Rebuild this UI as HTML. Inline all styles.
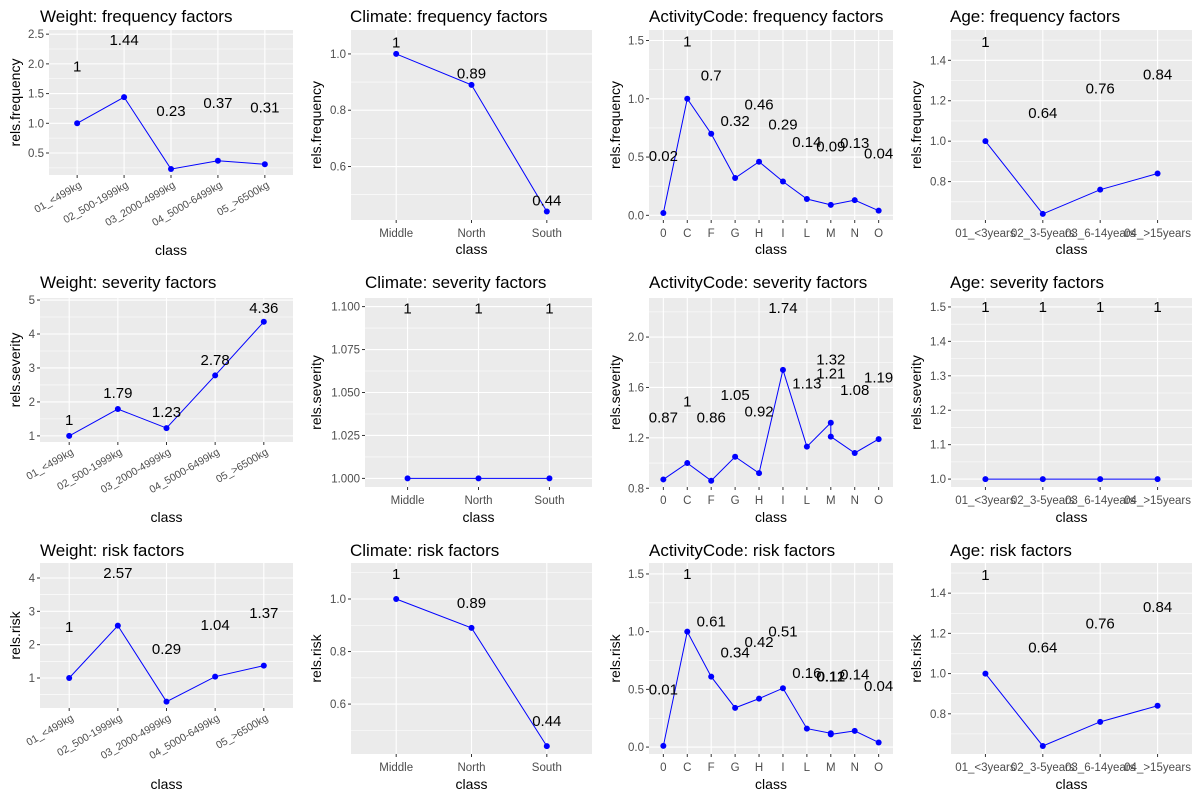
<!DOCTYPE html>
<html><head><meta charset="utf-8"><style>
body{margin:0;background:#fff}
svg{display:block;font-family:"Liberation Sans",sans-serif}
</style></head><body>
<svg id="chart" width="1200" height="800" viewBox="0 0 1200 800"></svg>
<script>
// ---- data ----
const weightCats = ["01_<499kg","02_500-1999kg","03_2000-4999kg","04_5000-6499kg","05_>6500kg"];
const climateCats = ["Middle","North","South"];
const activityCats = ["0","C","F","G","H","I","L","M","N","O"];
const activitySevCats = ["0","C","F","G","H","I","L","M","M","N","O"];
const activityRiskCats = ["0","C","F","G","H","I","L","M","M","N","O"];
const ageCats = ["01_<3years","02_3-5years","03_6-14years","04_>15years"];

const weightFreq = [1,1.44,0.23,0.37,0.31];
const weightFreqLabY = [1.96,2.40,1.21,1.34,1.27];
const climateFreq = [1,0.89,0.44];
const climateFreqLabY = [1.04,0.93,0.48];
const activityFreq = [0.02,1,0.7,0.32,0.46,0.29,0.14,0.09,0.13,0.04];
const activityFreqLabY = [0.51,1.49,1.2,0.81,0.95,0.78,0.63,0.59,0.62,0.53];
const ageFreq = [1,0.64,0.76,0.84];
const ageFreqLabY = [1.49,1.14,1.26,1.33];

const weightSev = [1,1.79,1.23,2.78,4.36];
const weightSevLabY = [1.47,2.26,1.71,3.24,4.76];
const climateSev = [1,1,1];
const climateSevLabY = [1.099,1.099,1.099];
const activitySev = [0.87,1,0.86,1.05,0.92,1.74,1.13,1.32,1.21,1.08,1.19];
const activitySevLabY = [1.36,1.49,1.36,1.54,1.41,2.23,1.63,1.82,1.71,1.58,1.68];
const ageSev = [1,1,1,1];
const ageSevLabY = [1.5,1.5,1.5,1.5];

const weightRisk = [1,2.57,0.29,1.04,1.37];
const weightRiskLabY = [2.53,4.15,1.87,2.59,2.95];
const climateRisk = [1,0.89,0.44];
const climateRiskLabY = [1.095,0.985,0.535];
const activityRisk = [0.01,1,0.61,0.34,0.42,0.51,0.16,0.12,0.11,0.14,0.04];
const activityRiskLabels = ["0.01","1","0.61","0.34","0.42","0.51","0.16","0.12","0.11","0.14","0.04"];
const activityRiskLabY = [0.5,1.5,1.09,0.82,0.91,1.0,0.64,0.61,0.61,0.63,0.53];
const ageRisk = [1,0.64,0.76,0.84];
const ageRiskLabY = [1.49,1.13,1.25,1.33];

// ---- rendering ----
const NS="http://www.w3.org/2000/svg";
const svg=document.getElementById('chart');
function mk(tag,attrs,parent,text){const e=document.createElementNS(NS,tag);for(const k in attrs)e.setAttribute(k,attrs[k]);if(text!==undefined)e.textContent=text;(parent||svg).appendChild(e);return e;}

function panel(c){
  const g=mk('g',{});
  
  
  const W=c.x1-c.x0,H=c.y1-c.y0;
  const ys=v=>c.y1-(v-c.ymin)/(c.ymax-c.ymin)*H;
  const uniq=c.uniq;
  const step=W/(uniq.length-1+1.2);
  const xs=cat=>c.x0+step*(uniq.indexOf(cat)+0.6);
  const bg=mk('rect',{x:c.x0,y:c.y0,width:W,height:H,fill:'#EBEBEB'},g);
  
  
  const br=c.breaks, d=br[1]-br[0];
  for(let v=br[0]-d/2; v<=c.ymax; v+=d){ if(v>=c.ymin){const y=ys(v);mk('line',{x1:c.x0,x2:c.x1,y1:y,y2:y,stroke:'#fff','stroke-width':0.55},g);} }
  br.forEach(v=>{const y=ys(v);
    mk('line',{x1:c.x0,x2:c.x1,y1:y,y2:y,stroke:'#fff','stroke-width':1.1},g);
    mk('line',{x1:c.x0-3,x2:c.x0,y1:y,y2:y,stroke:'#333','stroke-width':1},g);
    const t=mk('text',{x:c.x0-5,y:y+4,'text-anchor':'end','font-size':11.5,fill:'#4D4D4D'},g,v.toFixed(c.dec));
    
    
  });
  uniq.forEach(cat=>{const x=xs(cat);
    mk('line',{x1:x,x2:x,y1:c.y0,y2:c.y1,stroke:'#fff','stroke-width':1.1},g);
    mk('line',{x1:x,x2:x,y1:c.y1,y2:c.y1+3,stroke:'#333','stroke-width':1},g);
    let t;
    if(c.rot){t=mk('text',{x:x+5,y:c.y1+12,'text-anchor':'end','font-size':10.5,fill:'#4D4D4D',transform:`rotate(-30 ${x+5} ${c.y1+12})`},g,cat);}
    else{t=mk('text',{x:x,y:c.y1+17,'text-anchor':'middle','font-size':11.5,fill:'#4D4D4D'},g,cat);}
    
    
  });
  const pts=c.cats.map((cat,i)=>xs(cat)+','+ys(c.vals[i])).join(' ');
  const pl=mk('polyline',{points:pts,fill:'none',stroke:'#0000FF','stroke-width':1},g);
  
  
  c.cats.forEach((cat,i)=>{
    const p=mk('circle',{cx:xs(cat),cy:ys(c.vals[i]),r:3,fill:'#0000FF'},g);
    
    
    const lab=c.labels?c.labels[i]:String(c.vals[i]);
    const t=mk('text',{x:xs(cat),y:ys(c.labY[i])+5,'text-anchor':'middle','font-size':15,fill:'#000'},g,lab);
    
    
  });
  const ti=mk('text',{x:c.tx,y:c.ty,'font-size':17,fill:'#000'},g,c.title);
  
  
  const cx=(c.x0+c.x1)/2;
  const xt=mk('text',{x:cx,y:c.xty,'text-anchor':'middle','font-size':14,fill:'#000'},g,'class');
  
  
  const cy=(c.y0+c.y1)/2;
  const yt=mk('text',{x:c.ytx,y:cy,'text-anchor':'middle','font-size':14,fill:'#000',transform:`rotate(-90 ${c.ytx} ${cy})`},g,c.ylab);
  
  
}

// row 1
panel({name:'weight-frequency-panel',x0:49,x1:293,y0:30,y1:175,ymin:0.13,ymax:2.57,breaks:[0.5,1,1.5,2,2.5],dec:1,uniq:weightCats,cats:weightCats,vals:weightFreq,labY:weightFreqLabY,rot:true,title:'Weight: frequency factors',tx:40,ty:22,xty:255,ytx:20,ylab:'rels.frequency'});
panel({name:'climate-frequency-panel',x0:351,x1:592,y0:30,y1:220,ymin:0.41,ymax:1.085,breaks:[0.6,0.8,1.0],dec:1,uniq:climateCats,cats:climateCats,vals:climateFreq,labY:climateFreqLabY,title:'Climate: frequency factors',tx:350,ty:22,xty:254,ytx:321,ylab:'rels.frequency'});
panel({name:'activity-frequency-panel',x0:649,x1:893,y0:30,y1:220,ymin:-0.04,ymax:1.59,breaks:[0,0.5,1,1.5],dec:1,uniq:activityCats,cats:activityCats,vals:activityFreq,labY:activityFreqLabY,title:'ActivityCode: frequency factors',tx:649,ty:22,xty:254,ytx:620,ylab:'rels.frequency'});
panel({name:'age-frequency-panel',x0:951,x1:1192,y0:30,y1:220,ymin:0.61,ymax:1.55,breaks:[0.8,1.0,1.2,1.4],dec:1,uniq:ageCats,cats:ageCats,vals:ageFreq,labY:ageFreqLabY,title:'Age: frequency factors',tx:950,ty:22,xty:254,ytx:921,ylab:'rels.frequency'});
// row 2
panel({name:'weight-severity-panel',x0:40,x1:293,y0:298,y1:442,ymin:0.82,ymax:5.06,breaks:[1,2,3,4,5],dec:0,uniq:weightCats,cats:weightCats,vals:weightSev,labY:weightSevLabY,rot:true,title:'Weight: severity factors',tx:40,ty:288,xty:522,ytx:20,ylab:'rels.severity'});
panel({name:'climate-severity-panel',x0:365,x1:592,y0:298,y1:487,ymin:0.995,ymax:1.105,breaks:[1.0,1.025,1.05,1.075,1.1],dec:3,uniq:climateCats,cats:climateCats,vals:climateSev,labY:climateSevLabY,title:'Climate: severity factors',tx:365,ty:288,xty:522,ytx:321,ylab:'rels.severity'});
panel({name:'activity-severity-panel',x0:649,x1:893,y0:298,y1:487,ymin:0.81,ymax:2.31,breaks:[0.8,1.2,1.6,2.0],dec:1,uniq:activityCats,cats:activitySevCats,vals:activitySev,labY:activitySevLabY,title:'ActivityCode: severity factors',tx:649,ty:288,xty:522,ytx:620,ylab:'rels.severity'});
panel({name:'age-severity-panel',x0:951,x1:1192,y0:298,y1:487,ymin:0.977,ymax:1.526,breaks:[1.0,1.1,1.2,1.3,1.4,1.5],dec:1,uniq:ageCats,cats:ageCats,vals:ageSev,labY:ageSevLabY,title:'Age: severity factors',tx:950,ty:288,xty:522,ytx:921,ylab:'rels.severity'});
// row 3
panel({name:'weight-risk-panel',x0:40,x1:293,y0:563,y1:708,ymin:0.1,ymax:4.45,breaks:[1,2,3,4],dec:0,uniq:weightCats,cats:weightCats,vals:weightRisk,labY:weightRiskLabY,rot:true,title:'Weight: risk factors',tx:40,ty:556,xty:789,ytx:20,ylab:'rels.risk'});
panel({name:'climate-risk-panel',x0:351,x1:592,y0:563,y1:754,ymin:0.41,ymax:1.137,breaks:[0.6,0.8,1.0],dec:1,uniq:climateCats,cats:climateCats,vals:climateRisk,labY:climateRiskLabY,title:'Climate: risk factors',tx:350,ty:556,xty:789,ytx:321,ylab:'rels.risk'});
panel({name:'activity-risk-panel',x0:649,x1:893,y0:563,y1:754,ymin:-0.06,ymax:1.595,breaks:[0,0.5,1,1.5],dec:1,uniq:activityCats,cats:activityRiskCats,vals:activityRisk,labels:activityRiskLabels,labY:activityRiskLabY,title:'ActivityCode: risk factors',tx:649,ty:556,xty:789,ytx:620,ylab:'rels.risk'});
panel({name:'age-risk-panel',x0:951,x1:1192,y0:563,y1:754,ymin:0.6,ymax:1.55,breaks:[0.8,1.0,1.2,1.4],dec:1,uniq:ageCats,cats:ageCats,vals:ageRisk,labY:ageRiskLabY,title:'Age: risk factors',tx:950,ty:556,xty:789,ytx:921,ylab:'rels.risk'});
</script>
</body></html>
